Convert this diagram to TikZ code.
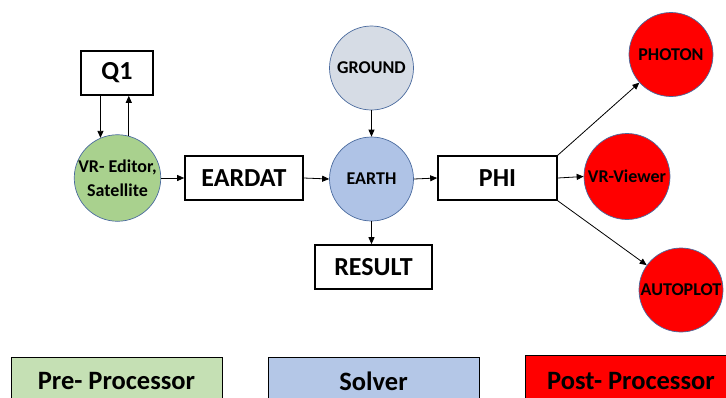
\documentclass[tikz,border=0pt]{standalone}
\usepackage{fontspec}
\setmainfont{Carlito}
\usetikzlibrary{arrows.meta}
\definecolor{preg}{HTML}{A9D18E}
\definecolor{pregl}{HTML}{C5E0B4}
\definecolor{solvb}{HTML}{B4C7E7}
\definecolor{earthb}{HTML}{AFC3E6}
\definecolor{groundg}{HTML}{D6DCE5}
\definecolor{postr}{HTML}{FF0000}
\definecolor{rim}{HTML}{4A6A9E}
\tikzset{
  box/.style={draw=black, line width=1.6pt, fill=white, inner sep=0pt,
    font=\fontsize{26}{30}\selectfont\bfseries},
  proc/.style={circle, draw=rim, line width=0.7pt, inner sep=0pt,
    minimum size=84pt, align=center, font=\fontsize{18}{24}\selectfont\bfseries},
  legend/.style={draw=black, line width=1.4pt, inner sep=0pt, anchor=north west},
  legendtext/.style={font=\fontsize{26.5}{30}\selectfont\bfseries},
  arr/.style={draw=black, line width=0.8pt, -{Triangle[length=7pt,width=6pt]}}
}
\begin{document}
\begin{tikzpicture}[x=1pt,y=-1pt]
\useasboundingbox (0,0) rectangle (726,397);
% pre-processing
\node[box, minimum width=72pt, minimum height=44pt] (q1) at (117,73) {Q1};
\node[proc, fill=preg] (vre) at (117.5,178) {VR- Editor,\\Satellite};
\node[box, minimum width=118pt, minimum height=44pt] (eardat) at (244,178) {EARDAT};
% solver
\node[proc, fill=groundg] (ground) at (371.5,68) {GROUND};
\node[proc, fill=earthb] (earth) at (371.5,179) {EARTH};
\node[box, minimum width=117pt, minimum height=44pt] (result) at (373.5,267) {RESULT};
% post-processing
\node[box, minimum width=119pt, minimum height=44pt] (phi) at (497.5,178) {PHI};
\node[proc, fill=postr] (photon) at (671,54.5) {PHOTON};
\node[proc, fill=postr, minimum size=86pt] (vrv) at (627,176.5) {VR-Viewer};
\node[proc, fill=postr] (autoplot) at (681,290) {AUTOPLOT};
% connectors
\draw[arr] (q1.south -| vre.113) -- (vre.113);
\draw[arr] (vre.75) -- (vre.75 |- q1.south);
\draw[arr] (vre.east) -- (eardat.west);
\draw[arr] (eardat.east) -- (earth.west);
\draw[arr] (ground.south) -- (earth.north);
\draw[arr] (earth.south) -- (earth.south |- result.north);
\draw[arr] (earth.east) -- (phi.west);
\draw[arr] (phi.north east) -- (photon);
\draw[arr] (phi.east) -- (vrv.west);
\draw[arr] (phi.south east) -- (autoplot);
% legend
\node[legend, fill=pregl, minimum width=211pt, minimum height=50pt] (lpre) at (11,357) {};
\node[legendtext] (tpre) at (116.5,381) {Pre- Processor};
\node[legend, fill=solvb, minimum width=211pt, minimum height=50pt] (lsol) at (268,357) {};
\node[legendtext] (tsol) at (373.5,381) {Solver};
\node[legend, fill=postr, minimum width=215pt, minimum height=50pt] (lpost) at (525,355) {};
\node[legendtext] (tpost) at (631,381) {Post- Processor};
\end{tikzpicture}
\end{document}
